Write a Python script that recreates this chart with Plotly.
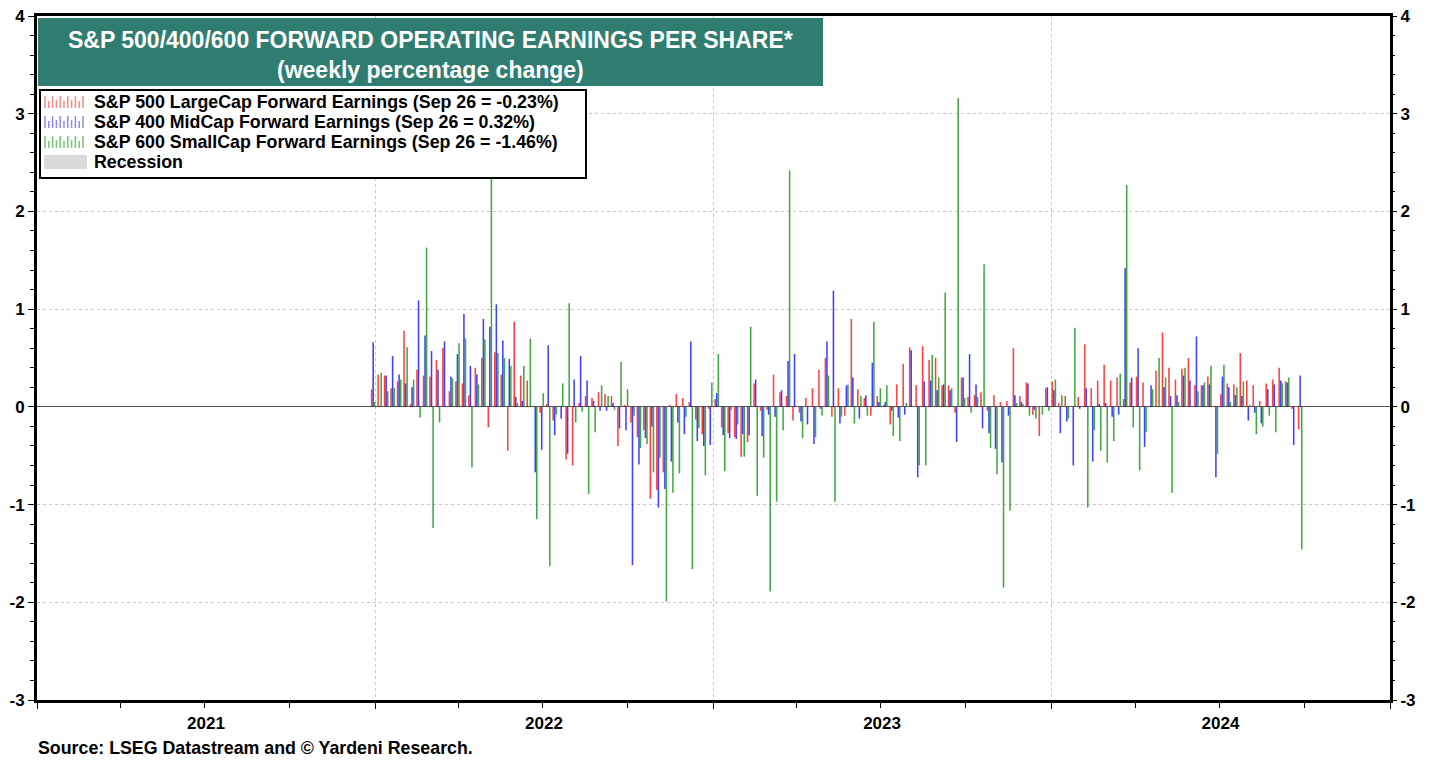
import pandas as pd
import plotly.graph_objects as go

# ---- data (weekly % change) ----
first_week = "2021-12-30"
n_weeks = 144
weeks = pd.date_range(first_week, periods=n_weeks, freq="7D")

sp500_large = [
    0.18, 0.33, 0.32, 0.19, 0.26, 0.78, 0.03, 0.38, 0.32, 0.31, 0.48, 0.60, 0.16, 0.26, 0.24, 0.12, 0.40, 0.50,
    -0.21, 0.56, 0.33, -0.45, 0.87, 0.32, 0.27, 0.01, -0.06, 0.03, -0.14, 0.00, -0.54, -0.60, 0.04, 0.11, 0.09, 0.15,
    0.13, 0.11, -0.40, 0.02, -0.16, -0.31, -0.24, -0.94, -0.85, -0.67, 0.02, 0.13, 0.09, 0.05, -0.13, -0.28, -0.02, 0.08,
    -0.21, -0.27, -0.31, -0.51, -0.36, 0.24, -0.04, -0.03, 0.33, 0.15, 0.11, -0.14, -0.06, 0.09, 0.19, 0.38, 0.50, -0.10,
    0.19, -0.09, 0.90, 0.18, 0.09, -0.09, 0.11, 0.02, -0.18, 0.23, 0.44, 0.61, 0.22, 0.62, 0.48, 0.50, 0.22, 0.22,
    -0.06, 0.30, 0.10, 0.12, 0.15, -0.04, 0.12, 0.05, 0.06, 0.60, 0.11, 0.25, -0.08, -0.30, 0.19, 0.26, 0.04, 0.11,
    0.01, 0.10, 0.64, 0.19, 0.27, 0.43, 0.27, 0.30, 0.08, 0.25, 0.31, 0.25, 0.01, 0.37, 0.76, 0.40, 0.28, 0.39, 0.50,
    0.22, 0.22, 0.31, 0.01, 0.13, 0.24, 0.23, 0.55, 0.27, 0.22, 0.06, 0.24, 0.28, 0.40, 0.26, -0.02, -0.23,
]
sp400_mid = [
    0.66, 0.01, 0.32, 0.52, 0.33, 0.24, 0.20, 1.09, 0.73, 0.57, 0.38, 0.67, 0.31, 0.54, 0.95, 0.42, 0.33, 0.90,
    0.82, 1.05, 0.68, 0.49, 0.10, 0.06, 0.00, -0.67, -0.44, 0.63, -0.29, -0.12, -0.48, 0.28, 0.52, 0.27, 0.06, -0.04,
    -0.04, 0.04, -0.22, -0.24, -1.62, -0.59, -0.32, -0.20, -1.03, -0.84, -0.56, -0.16, -0.28, 0.67, -0.35, -0.40, -0.39, 0.14,
    -0.29, -0.32, -0.33, -0.28, -0.29, 0.28, -0.30, -0.08, -0.10, 0.17, 0.47, 0.54, -0.15, -0.18, -0.38, -0.02, 0.67, 1.19,
    -0.17, 0.22, 0.30, -0.12, 0.12, 0.45, 0.05, 0.05, -0.04, -0.11, -0.08, 0.58, -0.72, 0.26, 0.27, 0.17, 0.23, 0.17,
    -0.36, 0.30, 0.54, 0.23, -0.22, -0.27, -0.43, -0.57, -0.09, 0.12, 0.05, 0.24, -0.03, 0.00, 0.20, 0.17, -0.27, -0.15,
    -0.60, -0.02, 0.19, -0.56, 0.03, 0.04, -0.10, -0.08, 1.42, 0.30, 0.60, -0.41, 0.22, 0.00, 0.20, 0.11, 0.12, 0.32, 0.27,
    0.72, 0.22, 0.23, -0.72, 0.31, 0.20, 0.12, 0.11, -0.14, -0.06, -0.17, 0.18, 0.23, 0.27, 0.25, -0.39, 0.32,
]
sp600_small = [
    0.05, 0.35, 0.16, 0.19, 0.28, 0.61, 0.28, -0.11, 1.63, -1.24, -0.16, 0.00, 0.29, 0.65, 0.70, -0.62, 0.23, 0.69,
    2.37, 0.55, 0.50, 0.42, 0.04, 0.42, 0.70, -1.15, 0.14, -1.63, -0.08, 0.24, 1.06, -0.16, -0.05, -0.89, -0.26, 0.22,
    0.11, -0.03, 0.46, 0.18, -0.09, -0.42, -0.38, -0.67, -0.52, -1.99, -0.88, -0.68, -0.10, -1.66, -0.22, -0.70, 0.25, 0.54,
    -0.66, -0.03, -0.18, -0.51, 0.82, -0.91, -0.52, -1.89, -0.97, -0.24, 2.42, 0.00, -0.32, 0.00, -0.31, -0.09, 0.32, -0.97,
    -0.10, 0.23, -0.17, 0.11, -0.09, 0.87, 0.19, 0.22, -0.30, -0.35, 0.04, 0.00, -0.60, -0.60, 0.53, 0.30, 1.17, 0.19,
    3.16, 0.09, -0.06, 0.10, 1.46, -0.42, -0.69, -1.85, -1.06, 0.04, 0.03, -0.09, -0.12, -0.08, -0.04, 0.28, 0.12, -0.12,
    0.81, 0.00, -1.03, -0.24, -0.45, -0.57, -0.35, 0.34, 2.27, -0.21, -0.65, -0.26, 0.18, 0.50, 0.30, -0.88, 0.05, 0.40, 0.00,
    0.16, 0.25, 0.42, -0.48, 0.43, 0.05, 0.20, 0.26, 0.02, -0.28, -0.20, -0.09, -0.26, 0.24, 0.30, 0.00, -1.46,
]

names = [
    "S&P 500 LargeCap Forward Earnings (Sep 26 = -0.23%)",
    "S&P 400 MidCap Forward Earnings (Sep 26 = 0.32%)",
    "S&P 600 SmallCap Forward Earnings (Sep 26 = -1.46%)",
    "Recession",
]
y_tickvals = [-3, -2, -1, 0, 1, 2, 3, 4]
y_ticktext = ["-3", "-2", "-1", "0", "1", "2", "3", "4"]

# ---- styling ----
FONT = "Arial, Liberation Sans, sans-serif"
WEEK_MS = 7 * 24 * 3600 * 1000
bar_w = 0.24 * WEEK_MS
colors = ["rgba(255,0,0,0.75)", "rgba(0,0,255,0.75)", "rgba(0,140,0,0.75)"]
icon_colors = ["rgba(255,60,60,0.6)", "rgba(60,60,255,0.6)", "rgba(0,150,0,0.55)"]
offsets = [-0.36, -0.12, 0.12]

# page body has an 8px margin: figure is sized so that the plot sits where the reference has it
PAGE_OFF = 8
PLOT_L, PLOT_R, PLOT_T, PLOT_B = 37, 1390, 16, 700   # screen pixels of plot area


def px(x):
    return (x - PLOT_L) / (PLOT_R - PLOT_L)


def py(y):
    return (PLOT_B - y) / (PLOT_B - PLOT_T)


fig = go.Figure()
for vals, name, col, off in zip([sp500_large, sp400_mid, sp600_small], names[:3], colors, offsets):
    fig.add_trace(go.Bar(
        x=weeks, y=vals, name=name, marker=dict(color=col, line=dict(width=0)),
        width=bar_w, offset=off * WEEK_MS, showlegend=False,
    ))
# empty trace on the right-hand axis so that axis is drawn
fig.add_trace(go.Bar(x=[weeks[0]], y=[None], name=names[3], yaxis="y2", showlegend=False,
                     marker=dict(color="#D9D9D9", line=dict(width=0))))

tickfont = dict(family=FONT, size=17, color="black", weight="bold")
yax_common = dict(
    range=[-3, 4], tickmode="array", tickvals=y_tickvals, ticktext=y_ticktext,
    ticks="outside", ticklen=6, tickwidth=1, tickcolor="black",
    tickfont=tickfont, automargin=False, ticklabeloverflow="allow",
    minor=dict(dtick=0.2, tick0=0, ticks="outside", ticklen=4, tickcolor="black", showgrid=False),
    fixedrange=True,
)

W, H = 1439 - PAGE_OFF, 760 - PAGE_OFF
fig.update_layout(
    width=W, height=H,
    margin=dict(l=PLOT_L - PAGE_OFF, r=(PAGE_OFF + W) - PLOT_R, t=PLOT_T - PAGE_OFF,
                b=(PAGE_OFF + H) - PLOT_B, autoexpand=False),
    paper_bgcolor="white", plot_bgcolor="white",
    barmode="overlay",
    showlegend=False,
    xaxis=dict(
        type="date", range=["2021-01-01", "2025-01-01"],
        tick0="2021-01-01", dtick="M12", ticklabelmode="period", tickformat="%Y",
        ticks="outside", ticklen=6, tickcolor="black",
        tickfont=tickfont, automargin=False,
        showgrid=True, gridcolor="#C8C8C8", griddash="dot", gridwidth=1,
        minor=dict(dtick="M3", ticks="outside", ticklen=5, tickcolor="black", showgrid=False),
        showline=True, linewidth=3, linecolor="black", mirror=True,
        zeroline=False,
    ),
    yaxis=dict(
        **yax_common,
        showgrid=True, gridcolor="#C8C8C8", griddash="dot", gridwidth=1,
        zeroline=True, zerolinecolor="#555555", zerolinewidth=1,
        showline=True, linewidth=3, linecolor="black", mirror=True,
    ),
    yaxis2=dict(
        **yax_common, overlaying="y", side="right", matches="y",
        showgrid=False, zeroline=False, showline=False,
    ),
)

# ---- title box ----
fig.add_shape(type="rect", xref="paper", yref="paper", x0=px(38), x1=px(823), y0=py(86), y1=py(18),
              fillcolor="rgb(47,125,113)", line=dict(width=0), layer="above")
fig.add_annotation(xref="paper", yref="paper", x=px(430), y=py(40), xanchor="center", yanchor="middle",
                   showarrow=False,
                   text="S&P 500/400/600 FORWARD OPERATING EARNINGS PER SHARE*",
                   font=dict(family=FONT, size=23, color="white", weight="bold"))
fig.add_annotation(xref="paper", yref="paper", x=px(430), y=py(70), xanchor="center", yanchor="middle",
                   showarrow=False,
                   text="(weekly percentage change)",
                   font=dict(family=FONT, size=23, color="white", weight="bold"))

# ---- legend box (drawn as annotations so its spacing matches the reference) ----
fig.add_shape(type="rect", xref="paper", yref="paper", x0=px(40), x1=px(586), y0=py(178), y1=py(90),
              fillcolor="white", line=dict(color="black", width=2), layer="above")
row_y = [102, 122, 142, 162]
comb = [12, 7, 12, 8, 12, 7, 12, 8, 12, 7, 12]
for i, name in enumerate(names):
    yc = row_y[i]
    if i < 3:
        path = ""
        for k, h in enumerate(comb):
            x = 45 + 3.8 * k
            path += f"M {px(x)},{py(yc + 6)} L {px(x)},{py(yc + 6 - h)} "
        fig.add_shape(type="path", xref="paper", yref="paper", path=path,
                      line=dict(color=icon_colors[i], width=1.5), layer="above")
    else:
        fig.add_shape(type="rect", xref="paper", yref="paper", x0=px(44), x1=px(87),
                      y0=py(yc + 7), y1=py(yc - 7), fillcolor="#D9D9D9", line=dict(width=0), layer="above")
    fig.add_annotation(xref="paper", yref="paper", x=px(92), y=py(yc), xanchor="left", yanchor="middle",
                       showarrow=False, text=name,
                       font=dict(family=FONT, size=17.8, color="black", weight="bold"))

# ---- source ----
fig.add_annotation(xref="paper", yref="paper", x=px(36), y=py(748), xanchor="left", yanchor="middle",
                   showarrow=False, text="Source: LSEG Datastream and © Yardeni Research.",
                   font=dict(family=FONT, size=17.8, color="black", weight="bold"))

fig.write_html("out.html")
